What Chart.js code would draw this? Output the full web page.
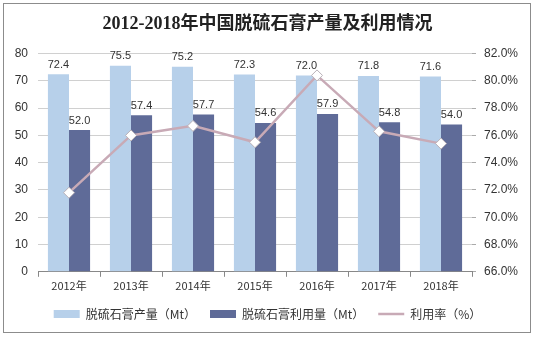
<!DOCTYPE html>
<html>
<head>
<meta charset="utf-8">
<script src="https://cdn.jsdelivr.net/npm/chart.js@4/dist/chart.umd.min.js"></script>
<style>
  html, body { margin: 0; padding: 0; background: #fff; }
  #wrap { position: relative; width: 535px; height: 338px; }
  #frame { position: absolute; left: 3px; top: 3px; width: 526px; height: 328px; border: 1px solid #8c8c8c; pointer-events: none; }
</style>
</head>
<body>
<div id="wrap">
  <canvas id="myChart" width="535" height="338"></canvas>
  <div id="frame"></div>
</div>
<script>
let years = ["2012年", "2013年", "2014年", "2015年", "2016年", "2017年", "2018年"];
let production = [72.4, 75.5, 75.2, 72.3, 72.0, 71.8, 71.6];
let utilization = [52.0, 57.4, 57.7, 54.6, 57.9, 54.8, 54.0];
let rate = [71.8, 76.0, 76.7, 75.5, 80.4, 76.3, 75.4];

// value labels above the bars
let barLabels = {
    id: "barLabels",
    afterDatasetsDraw(chart) {
        let ctx = chart.ctx;
        ctx.save();
        ctx.font = "11px 'Liberation Sans', Arial, sans-serif";
        ctx.fillStyle = "#333";
        ctx.textAlign = "center";
        ctx.textBaseline = "bottom";
        [0, 1].forEach(function (i) {
            let meta = chart.getDatasetMeta(i);
            meta.data.forEach(function (bar, j) {
                ctx.fillText(chart.data.datasets[i].data[j].toFixed(1), bar.x, bar.y - 4);
            });
        });
        ctx.restore();
    }
};

let myChart = document.getElementById("myChart").getContext("2d");

let gypsumChart = new Chart(myChart, {
    type: "bar",
    data: {
        labels: years,
        datasets: [
            {
                label: "脱硫石膏产量（Mt）",
                data: production,
                backgroundColor: "#b7d0ea",
                yAxisID: "y",
                order: 2
            },
            {
                label: "脱硫石膏利用量（Mt）",
                data: utilization,
                backgroundColor: "#5f6b98",
                yAxisID: "y",
                order: 2
            },
            {
                type: "line",
                label: "利用率（%）",
                data: rate,
                yAxisID: "y1",
                borderColor: "#c8aab6",
                backgroundColor: "#ffffff",
                borderWidth: 2.5,
                lineTension: 0,
                pointStyle: "rectRot",
                pointRadius: 5.5,
                pointBorderColor: "#b9b1b8",
                pointBorderWidth: 1,
                pointBackgroundColor: "#ffffff",
                order: 1
            }
        ]
    },
    options: {
        responsive: false,
        animation: false,
        layout: { padding: { left: 0, right: 0, top: 10, bottom: 8 } },
        datasets: {
            bar: { categoryPercentage: 0.68, barPercentage: 1.0 }
        },
        plugins: {
            title: {
                display: true,
                text: "2012-2018年中国脱硫石膏产量及利用情况",
                color: "#222",
                font: { family: "'Liberation Serif', 'Noto Sans CJK SC'", size: 18, weight: "bold" },
                padding: { top: 4, bottom: 18 }
            },
            legend: {
                position: "bottom",
                labels: {
                    color: "#333",
                    font: { family: "'Noto Sans CJK SC', sans-serif", size: 12 },
                    usePointStyle: true,
                    pointStyleWidth: 26,
                    boxHeight: 8,
                    padding: 14,
                    generateLabels(chart) {
                        return chart.data.datasets.map(function (ds, i) {
                            let isLine = ds.type === "line";
                            return {
                                text: ds.label,
                                fillStyle: isLine ? "#c8aab6" : ds.backgroundColor,
                                strokeStyle: isLine ? "#c8aab6" : ds.backgroundColor,
                                lineWidth: isLine ? 2.5 : 0,
                                pointStyle: isLine ? "line" : "rect",
                                fontColor: "#333",
                                datasetIndex: i
                            };
                        });
                    }
                }
            },
            tooltip: { enabled: false }
        },
        scales: {
            x: {
                grid: { offset: true, drawOnChartArea: false, tickLength: 5, color: "#888" },
                border: { color: "#888" },
                ticks: { color: "#333", font: { family: "'Noto Sans CJK SC', sans-serif", size: 11 }, padding: 2 }
            },
            y: {
                position: "left",
                min: 0,
                max: 80,
                ticks: { stepSize: 10, color: "#333", font: { family: "'Liberation Sans', Arial", size: 12 }, padding: 10 },
                grid: { color: "#d0d0d0", drawTicks: false },
                border: { display: false },
                afterFit(scale) { scale.width = 38; }
            },
            y1: {
                position: "right",
                min: 66,
                max: 82,
                ticks: {
                    stepSize: 2,
                    color: "#333",
                    font: { family: "'Liberation Sans', Arial", size: 12 },
                    padding: 8,
                    callback: function (v) { return v.toFixed(1) + "%"; }
                },
                grid: { drawOnChartArea: false, tickLength: 4, color: "#aaa" },
                border: { display: false },
                afterFit(scale) { scale.width = 63; }
            }
        }
    },
    plugins: [barLabels]
});
</script>
</body>
</html>
